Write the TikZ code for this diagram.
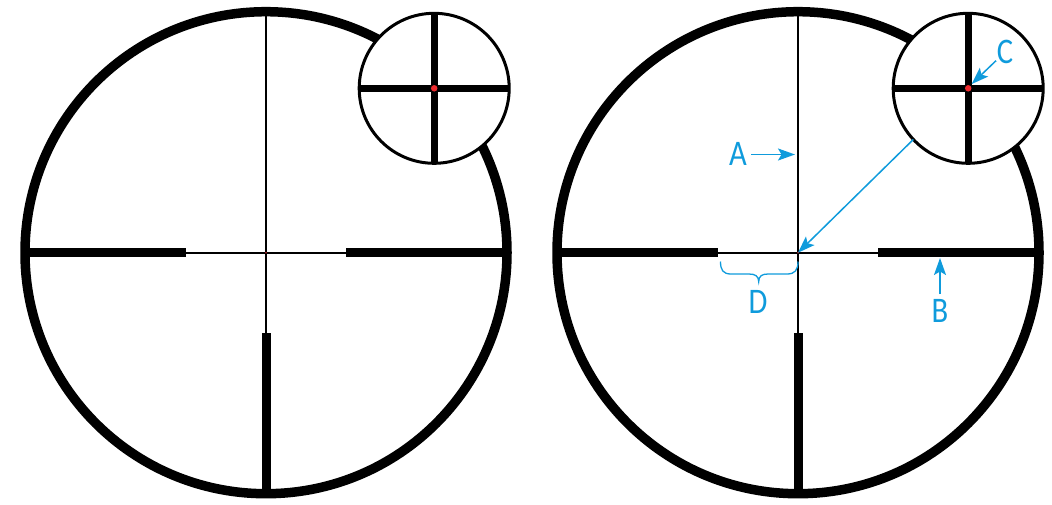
\documentclass[tikz,border=0pt]{standalone}
\usepackage{fontspec}
\setmainfont{Carlito}
\usetikzlibrary{arrows.meta}
\definecolor{ink}{HTML}{000000}
\definecolor{callout}{HTML}{0F9BDC}
\definecolor{dotred}{HTML}{EE2A2E}
\tikzset{
  >={Stealth[length=17pt, width=12pt, inset=3.5pt]},
  %
  ring/.style={circle, draw=ink, line width=9.5pt, minimum size=482pt, inner sep=0pt, outer sep=0pt},
  inset/.style={circle, draw=ink, line width=3pt, fill=white, minimum size=150pt, inner sep=0pt, outer sep=0pt},
  dot/.style={circle, fill=dotred, minimum size=6.5pt, inner sep=0pt},
  speck/.style={circle, fill=dotred!70!black, minimum size=2pt, inner sep=0pt},
  %
  hair/.style={draw=ink, line width=2pt},
  post/.style={draw=ink, line width=9pt},
  cross/.style={draw=ink, line width=6.7pt},
  %
  flow/.style={draw=callout, line width=1.5pt, ->},
  lbl/.style={text=callout, font=\fontsize{36}{36}\selectfont, xscale=.85, inner sep=0pt},
}
\begin{document}
\begin{tikzpicture}[x=1pt, y=-1pt]
  \useasboundingbox (0,0) rectangle (1052,504);

  \foreach \name/\cx/\ix in {L/266/434.2, R/798/968.2} {
    \node[ring] (ring\name) at (\cx,252.7) {};
    \coordinate (mid\name) at (\cx,252.7);

    \draw[hair] (ring\name.north) -- (ring\name.south);
    \draw[hair] (ring\name.west) -- (ring\name.east);

    % posts stop short of the centre
    \coordinate (postw\name) at (\cx-80,252.7);
    \coordinate (poste\name) at (\cx+80,252.7);
    \coordinate (posts\name) at (\cx,333);
    \draw[post] (ring\name.west) -- (postw\name);
    \draw[post] (ring\name.east) -- (poste\name);
    \draw[post] (ring\name.south) -- (posts\name);
    \node[speck] (speck\name) at (mid\name) {};

    \node[inset] (inset\name) at (\ix,88.3) {};
    \draw[cross] (inset\name.west) -- (inset\name.east);
    \draw[cross] (inset\name.north) -- (inset\name.south);
    \node[dot] (dot\name) at (\ix,88.3) {};
  }

  \node[lbl] (labela) at (738,154) {A};
  \node[lbl] (labelb) at (940,311) {B};
  \node[lbl] (labelc) at (1005,52) {C};
  \node[lbl] (labeld) at (758,302) {D};

  \coordinate (taila) at (751,154.5);
  \coordinate (hita) at (795,154.5);
  \coordinate (tailb) at (940,294);
  \coordinate (hitb) at (940,258);
  \coordinate (tailc) at (996,60.7);
  \coordinate (hitc) at (971.7,84);
  \draw[flow] (taila) -- (hita);
  \draw[flow] (tailb) -- (hitb);
  \draw[flow] (tailc) -- (hitc);
  \draw[flow] (insetR.223) -- (midR);

  % brace under the left gap
  \draw[draw=callout, line width=1.3pt]
    (720.5,261.5) .. controls (720.5,270) and (723,274) .. (731,274)
    -- (749,274) .. controls (755,274) and (758.7,276) .. (758.7,281.7)
    .. controls (758.7,276) and (762,274) .. (768,274)
    -- (787,274) .. controls (795,274) and (798,270) .. (798,261.5);
\end{tikzpicture}
\end{document}
